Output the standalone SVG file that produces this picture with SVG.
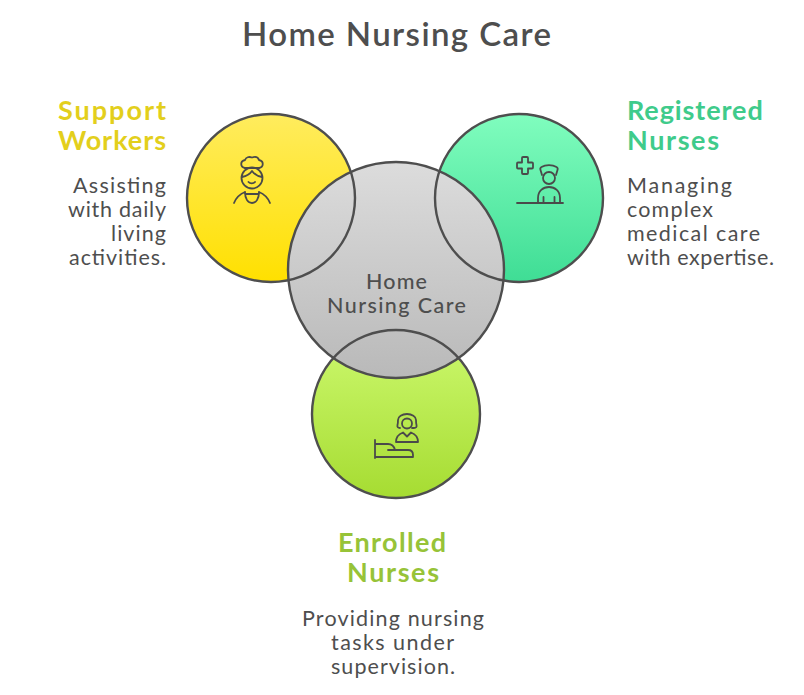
<svg xmlns="http://www.w3.org/2000/svg" width="804" height="695" viewBox="0 0 804 695">
<style>
text{font-family:"Lato","Noto Sans",sans-serif;fill:#4e4e4e}
.t{font-size:33px;font-weight:600}
.h{font-size:27px;font-weight:700}
.b{font-size:21.5px}
.c{font-size:21.5px;font-weight:500}
.y{fill:#e3cf1c}
.g{fill:#3fcb8b}
.l{fill:#97c338}
.ring{fill:none;stroke:#4e4e4e;stroke-width:2.4}
.ic{fill:none;stroke:#4a4a4a;stroke-width:1.8;stroke-linecap:round;stroke-linejoin:round}
</style>
<defs>
<linearGradient id="gy" x1="0" y1="0" x2="0" y2="1"><stop offset="0" stop-color="#ffec5e"/><stop offset="1" stop-color="#ffe000"/></linearGradient>
<linearGradient id="gg" x1="0" y1="0" x2="0" y2="1"><stop offset="0" stop-color="#80fdbe"/><stop offset="1" stop-color="#3fdd95"/></linearGradient>
<linearGradient id="gl" x1="0" y1="0" x2="0" y2="1"><stop offset="0" stop-color="#cdf96f"/><stop offset="1" stop-color="#a6dc32"/></linearGradient>
<linearGradient id="gc" x1="0" y1="0" x2="0" y2="1"><stop offset="0" stop-color="#dcdcdc"/><stop offset="1" stop-color="#b9b9b9"/></linearGradient>
</defs>
<text class="t" x="242" y="46" textLength="309" id="title">Home Nursing Care</text>
<g id="node-support">
<circle cx="271" cy="198" r="84" fill="url(#gy)"/>
<text class="h y" x="58" y="120" textLength="108">Support</text>
<text class="h y" x="58" y="150" textLength="108">Workers</text>
<text class="b" x="73" y="193" textLength="93">Assisting</text>
<text class="b" x="68" y="217" textLength="98">with daily</text>
<text class="b" x="111" y="241" textLength="55">living</text>
<text class="b" x="69" y="265" textLength="97">activities.</text>
<g class="ic">
<path d="M245 168c-5-1-5-7 0-8 1-3 4-3.500 7-2.500 3-1 6-.5 7 2.500 5 1 5 7 0 8"/>
<path d="M245 168h14"/>
<ellipse cx="252" cy="178" rx="10.500" ry="10.500"/>
<path d="M242 177c5-1 8-3 10-6 2 3 5 5 10 6"/>
<path d="M248.500 182c1.500 1.800 5 1.800 6.500 0"/>
<path d="M234 203c2-5 6-9 11-11M270 203c-2-5-6-9-11-11M245 192c0 7 3 11 7 11s7-4 7-11M245 194h14"/>
</g>
</g>
<g id="node-registered">
<circle cx="519" cy="198" r="84" fill="url(#gg)"/>
<text class="h g" x="627" y="120" style="letter-spacing:.9px">Registered</text>
<text class="h g" x="627" y="150" textLength="92">Nurses</text>
<text class="b" x="627" y="193" textLength="105">Managing</text>
<text class="b" x="627" y="217" textLength="86">complex</text>
<text class="b" x="627" y="241" textLength="133">medical care</text>
<text class="b" x="627" y="265" textLength="147">with expertise.</text>
<g class="ic">
<path d="M523 157h4c.7 0 1 .4 1 1v4.500h4c.7 0 1 .4 1 1v4c0 .7-.4 1-1 1h-4v4.500c0 .7-.4 1-1 1h-4c-.7 0-1-.4-1-1v-4.500h-4c-.7 0-1-.4-1-1v-4c0-.7.4-1 1-1h4v-4.500c0-.6.4-1 1-1z"/>
<path d="M542 175l-1.500-5c-.5-1.500 0-2.500 1-3 4-2.500 11-2.500 15 0 1 .5 1.500 1.500 1 3l-1.500 5"/>
<circle cx="549" cy="178" r="6"/>
<path d="M538 203v-5c0-7 5-11 11-11s11 4 11 11v5M543.500 197v6M554.500 197v6M517 203h46"/>
</g>
</g>
<g id="node-enrolled">
<circle cx="396" cy="414" r="84" fill="url(#gl)"/>
<text class="h l" x="338" y="552" textLength="108">Enrolled</text>
<text class="h l" x="347" y="582" textLength="92">Nurses</text>
<text class="b" x="302" y="626" textLength="182">Providing nursing</text>
<text class="b" x="331" y="650" textLength="123">tasks under</text>
<text class="b" x="331" y="674" textLength="124">supervision.</text>
<g class="ic">
<path d="M400 428c-2 0-3-1-2.500-3 .5-2 .5-4 .5-5 0-3.500 4-6 9-6s9 2.500 9 6c0 1 0 3 .5 5 .5 2-.5 3-2.500 3h-2"/>
<circle cx="407" cy="423.500" r="5"/>
<path d="M396 442c0-5 3-8 7-9.500l4 4 4-4c4 1.500 7 4.500 7 9.500z"/>
<path d="M375 440v18M375 457h38v-2c0-3-2-5-5-5h-20M375 444h13c3 0 6 2 7 6"/>
</g>
</g>
<g id="node-center">
<circle cx="396" cy="270" r="108" fill="url(#gc)"/>
<text class="c" x="366" y="289" textLength="61">Home</text>
<text class="c" x="327" y="313" textLength="139">Nursing Care</text>
</g>
<g id="connectors">
<circle class="ring" cx="271" cy="198" r="84"/>
<circle class="ring" cx="519" cy="198" r="84"/>
<circle class="ring" cx="396" cy="414" r="84"/>
<circle class="ring" cx="396" cy="270" r="108"/>
</g>
</svg>
